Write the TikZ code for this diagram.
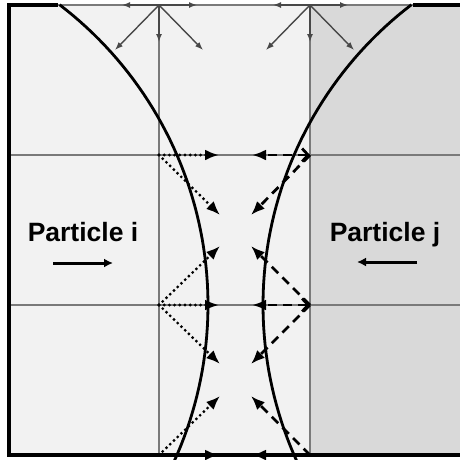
\documentclass[tikz,border=0pt]{standalone}
\usepackage{fontspec}
\setmainfont{Liberation Sans}
\usetikzlibrary{arrows.meta}
\definecolor{lightbg}{HTML}{F2F2F2}
\definecolor{darkbg}{HTML}{D9D9D9}
\definecolor{gridgray}{HTML}{7A7A7A}
\definecolor{thingray}{HTML}{484848}
\begin{document}
\begin{tikzpicture}[x=1pt,y=-1pt,
  gridline/.style={draw=gridgray, line width=2pt},
  border/.style={draw=black, line width=3.5pt},
  interface/.style={draw=black, line width=2.8pt},
  vel/.style={draw=thingray, line width=1.4pt, -{Latex[length=8pt,width=6pt]}},
  dotarrow/.style={draw=black, line width=3.2pt, line cap=round, dash pattern=on 0pt off 5.2pt, -{Latex[length=14pt,width=11pt]}},
  dasharrow/.style={draw=black, line width=2.8pt, dash pattern=on 9pt off 6pt, -{Latex[length=14pt,width=11pt]}},
  bounce/.style={{Straight Barb[length=6pt,width=13pt]}-{Latex[length=14pt,width=11pt]}},
  motion/.style={draw=black, line width=3pt, -{Latex[length=9pt,width=9pt]}},
  ptext/.style={font=\bfseries\fontsize{26.5}{30}\selectfont, anchor=base, inner sep=0pt}]
\useasboundingbox (0,0) rectangle (460,459);
% backgrounds
\fill[lightbg] (9,5) rectangle (460,455);
\fill[darkbg] (310,5) rectangle (460,455);
% lattice nodes
\coordinate (T1) at (159,5);   \coordinate (T2) at (310,5);
\coordinate (L1) at (159,155); \coordinate (L2) at (159,305); \coordinate (L3) at (159,455);
\coordinate (R1) at (310,155); \coordinate (R2) at (310,305); \coordinate (R3) at (310,455);
\coordinate (W1) at (9,155);   \coordinate (W2) at (9,305);
\coordinate (E1) at (460,155); \coordinate (E2) at (460,305);
\coordinate (TL) at (58,5);    \coordinate (TR) at (413,5);
% grid
\draw[gridline] (W1) -- (E1);
\draw[gridline] (W2) -- (E2);
\draw[gridline] (T1) -- (L3);
\draw[gridline] (T2) -- (R3);
\draw[gridline] (TL) -- (TR);
% thin velocity arrows at the top
\coordinate (T1w) at (122,5);  \coordinate (T1e) at (197,5);  \coordinate (T1s) at (159,42);
\coordinate (T1sw) at (115,50); \coordinate (T1se) at (203,50);
\coordinate (T2w) at (273,5);  \coordinate (T2e) at (348,5);  \coordinate (T2s) at (310,42);
\coordinate (T2sw) at (266,50); \coordinate (T2se) at (354,50);
\foreach \e in {T1w,T1e,T1s,T1sw,T1se} \draw[vel] (T1) -- (\e);
\foreach \e in {T2w,T2e,T2s,T2sw,T2se} \draw[vel] (T2) -- (\e);
% particle surfaces
\draw[interface] plot[domain=-52.6:52.6, samples=80] ({-170+378*cos(\x)}, {305+378*sin(\x)});
\draw[interface] plot[domain=-52.6:52.6, samples=80] ({641-378*cos(\x)}, {305+378*sin(\x)});
% dotted arrows (particle i)
\coordinate (L1e) at (219,155); \coordinate (L1se) at (220,215);
\coordinate (L2e) at (219,305); \coordinate (L2ne) at (220,246); \coordinate (L2se) at (220,364);
\coordinate (L3e) at (219,455); \coordinate (L3ne) at (220,396);
\draw[dotarrow] (L1) -- (L1e);
\draw[dotarrow] (L1) -- (L1se);
\draw[dotarrow] (L2) -- (L2e);
\draw[dotarrow] (L2) -- (L2ne);
\draw[dotarrow] (L2) -- (L2se);
\draw[dotarrow] (L3) -- (L3e);
\draw[dotarrow] (L3) -- (L3ne);
% dashed arrows (particle j)
\coordinate (R1w) at (252,155); \coordinate (R1sw) at (251,215);
\coordinate (R2w) at (252,305); \coordinate (R2nw) at (251,246); \coordinate (R2sw) at (251,364);
\coordinate (R3w) at (252,455); \coordinate (R3nw) at (251,396);
\draw[dasharrow, bounce] (R1) -- (R1w);
\draw[dasharrow] (R1) -- (R1sw);
\draw[dasharrow, bounce] (R2) -- (R2w);
\draw[dasharrow] (R2) -- (R2nw);
\draw[dasharrow] (R2) -- (R2sw);
\draw[dasharrow] (R3) -- (R3w);
\draw[dasharrow] (R3) -- (R3nw);
% particle labels
\node[ptext] (pi) at (83,241) {Particle i};
\node[ptext] (pj) at (385,241) {Particle j};
\coordinate (mi1) at (53,263);  \coordinate (mi2) at (113,263);
\coordinate (mj1) at (417,262); \coordinate (mj2) at (357,262);
\draw[motion] (mi1) -- (mi2);
\draw[motion] (mj1) -- (mj2);
% outer border
\draw[border] (TL) -- (9,5) -- (9,455) -- (460,455);
\draw[border] (TR) -- (460,5);
\end{tikzpicture}
\end{document}
